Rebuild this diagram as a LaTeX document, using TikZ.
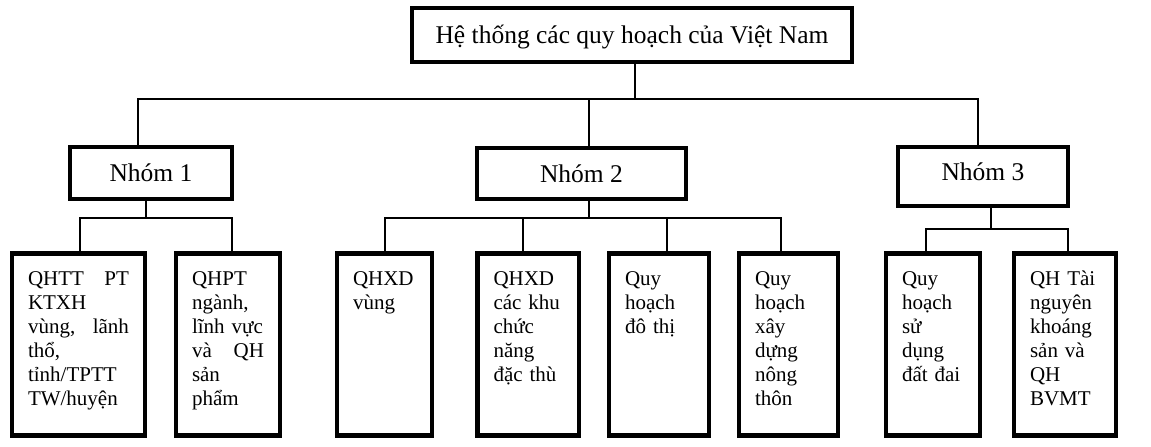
\documentclass[tikz,border=0pt]{standalone}
\usepackage{fontspec}
\setmainfont{Liberation Serif}
\usepackage{tikz}
\usetikzlibrary{positioning,calc}

\begin{document}
\begin{tikzpicture}[x=1pt, y=-1pt]
        \tikzstyle{headbox}=[draw, line width=4.5pt, inner sep=0pt, font=\fontsize{25.5}{30}\selectfont, text height=17pt, text depth=0pt]
        \tikzstyle{leafbox}=[draw, line width=4.5pt, anchor=north, align=left, inner xsep=16pt, inner ysep=10pt, font=\fontsize{21}{24}\selectfont, text height=22pt, text depth=140pt]
        \tikzstyle{link}=[line width=2pt]

        \useasboundingbox (0,0) rectangle (1151,447);

        \node[headbox, minimum width=440pt, minimum height=54pt] (top) at (632,35) {Hệ thống các quy hoạch của Việt Nam};

        \node[headbox, minimum width=162pt, minimum height=52pt] (g1) at (151,173) {Nhóm 1};
        \node[headbox, minimum width=209pt, minimum height=51pt] (g2) at (581.5,173.5) {Nhóm 2};
        \node[headbox, minimum width=170pt, minimum height=59pt, text depth=9pt] (g3) at (983,176.5) {Nhóm 3};

        \node[leafbox, text width=101pt] (l1) at (78.5,251) {QHTT\hfill PT\\KTXH\\vùng,\hfill lãnh\\thổ,\\tỉnh/TPTT\\TW/huyện};
        \node[leafbox, text width=72pt] (l2) at (228,251) {QHPT\\ngành,\\lĩnh vực\\và\hfill QH\\sản\\phẩm};
        \node[leafbox, text width=63pt] (l3) at (384.5,251) {QHXD\\vùng};
        \node[leafbox, text width=69.5pt] (l4) at (528.25,251) {QHXD\\các khu\\chức\\năng\\đặc thù};
        \node[leafbox, text width=68pt] (l5) at (659,251) {Quy\\hoạch\\đô thị};
        \node[leafbox, text width=67pt] (l6) at (788.5,251) {Quy\\hoạch\\xây\\dựng\\nông\\thôn};
        \node[leafbox, text width=62pt] (l7) at (933,251) {Quy\\hoạch\\sử\\dụng\\đất đai};
        \node[leafbox, text width=70pt] (l8) at (1065,251) {QH Tài\\nguyên\\khoáng\\sản và\\QH\\BVMT};

        \coordinate (b0) at ([xshift=3pt,yshift=-35pt]top.south);
        \coordinate (b1) at ([xshift=-5pt,yshift=-17pt]g1.south);
        \coordinate (b2) at ([xshift=7.5pt,yshift=-17pt]g2.south);
        \coordinate (b3) at ([xshift=8pt,yshift=-21pt]g3.south);

        \draw[link] ([xshift=3pt]top.south) -- (b0);
        \draw[link] ([xshift=-13pt]g1.north) |- (b0) -| ([xshift=-5pt]g3.north);
        \draw[link] ([xshift=7.5pt]g2.north) -- ([xshift=7.5pt]g2.north |- b0);

        \draw[link] ([xshift=-5pt]g1.south) -- (b1);
        \draw[link] ([xshift=1.5pt]l1.north) |- (b1) -| ([xshift=4pt]l2.north);

        \draw[link] ([xshift=7.5pt]g2.south) -- (b2);
        \draw[link] ([xshift=0.5pt]l3.north) |- (b2) -| ([xshift=-7.5pt]l6.north);
        \draw[link] ([xshift=-5pt]l4.north) -- ([xshift=-5pt]l4.north |- b2);
        \draw[link] ([xshift=8pt]l5.north) -- ([xshift=8pt]l5.north |- b2);

        \draw[link] ([xshift=8pt]g3.south) -- (b3);
        \draw[link] ([xshift=-7pt]l7.north) |- (b3) -| ([xshift=3pt]l8.north);
\end{tikzpicture}
\end{document}
